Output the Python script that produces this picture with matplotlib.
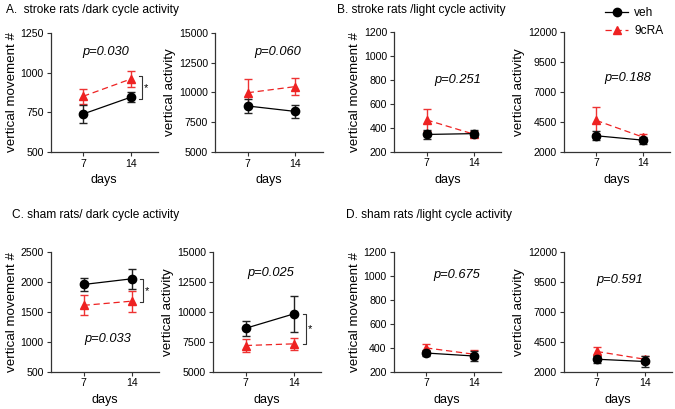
import matplotlib
matplotlib.use("Agg")
import matplotlib.pyplot as plt
from matplotlib.lines import Line2D

plt.rcParams['font.family'] = ['Liberation Sans', 'DejaVu Sans']

days = [7, 14]

# panel A: stroke rats, dark cycle
a_move_veh = [739, 845]
a_move_veh_err = [55, 32]
a_move_ra = [851, 960]
a_move_ra_err = [46, 53]
a_act_veh = [8860, 8400]
a_act_veh_err = [630, 560]
a_act_ra = [9980, 10500]
a_act_ra_err = [1130, 740]

# panel B: stroke rats, light cycle
b_move_veh = [343, 350]
b_move_veh_err = [38, 28]
b_move_ra = [465, 345]
b_move_ra_err = [95, 25]
b_act_veh = [3320, 2950]
b_act_veh_err = [380, 300]
b_act_ra = [4610, 3200]
b_act_ra_err = [1120, 300]

# panel C: sham rats, dark cycle
c_move_veh = [1960, 2055]
c_move_veh_err = [115, 165]
c_move_ra = [1610, 1680]
c_move_ra_err = [170, 175]
c_act_veh = [8630, 9830]
c_act_veh_err = [640, 1540]
c_act_ra = [7180, 7320]
c_act_ra_err = [560, 530]

# panel D: sham rats, light cycle
d_move_veh = [355, 330]
d_move_veh_err = [22, 42]
d_move_ra = [398, 345]
d_move_ra_err = [35, 35]
d_act_veh = [3030, 2840]
d_act_veh_err = [280, 500]
d_act_ra = [3680, 3030]
d_act_ra_err = [400, 300]

W, H = 675, 409
fig = plt.figure(figsize=(W / 100, H / 100), dpi=100)


def make_ax(x0, x1, ytop, ybot):
    return fig.add_axes([x0 / W, (H - ybot) / H, (x1 - x0) / W, (ybot - ytop) / H])


def draw(ax, veh, veh_err, ra, ra_err, yticks, ylabel, ptxt, pxy):
    ax.errorbar(days, veh, yerr=veh_err, color="black", ecolor="#222222", marker="o",
                ms=6, lw=0.9, elinewidth=1.0, capsize=3, capthick=1.0, zorder=3)
    ax.errorbar(days, ra, yerr=ra_err, color="#ee2222", ecolor="#ee3333", marker="^",
                ms=6, lw=0.9, ls=(0, (5, 3)), elinewidth=1.0, capsize=3, capthick=1.0, zorder=2)
    ax.set_xlim(2.2, 18)
    ax.set_ylim(yticks[0], yticks[-1])
    ax.set_yticks(yticks)
    ax.set_xticks(days)
    ax.set_xlabel("days", fontsize=9, labelpad=4)
    ax.set_ylabel(ylabel, fontsize=9.6, labelpad=2)
    ax.tick_params(labelsize=7.6, length=3, width=0.8, color="#333333", pad=2)
    for s in ["top", "right"]:
        ax.spines[s].set_visible(False)
    for s in ["left", "bottom"]:
        ax.spines[s].set_linewidth(0.9)
        ax.spines[s].set_color("#333333")
    ax.text(pxy[0], pxy[1], ptxt, transform=ax.transAxes, fontsize=9.3,
            style="italic", ha="center", va="center")


def bracket(ax, y_hi, y_lo, x=15.7):
    ax.plot([x - 0.5, x, x, x - 0.5], [y_hi, y_hi, y_lo, y_lo], color="#333333", lw=0.8,
            clip_on=False)
    ax.text(x + 0.55, (y_hi + y_lo) / 2, "*", fontsize=8, ha="center", va="center")


mv = "vertical movement #"
va = "vertical activity"

ax = make_ax(50.7, 157.7, 33.3, 151.7)
draw(ax, a_move_veh, a_move_veh_err, a_move_ra, a_move_ra_err, [500, 750, 1000, 1250], mv,
     "p=0.030", (0.51, 0.84))
bracket(ax, 977, 832)

ax = make_ax(215, 322.7, 33.3, 151.7)
draw(ax, a_act_veh, a_act_veh_err, a_act_ra, a_act_ra_err, [5000, 7500, 10000, 12500, 15000], va,
     "p=0.060", (0.58, 0.84))

ax = make_ax(394, 501, 32.3, 151.5)
draw(ax, b_move_veh, b_move_veh_err, b_move_ra, b_move_ra_err, [200, 400, 600, 800, 1000, 1200], mv,
     "p=0.251", (0.60, 0.60))

ax = make_ax(564, 670, 32.3, 151.5)
draw(ax, b_act_veh, b_act_veh_err, b_act_ra, b_act_ra_err, [2000, 4500, 7000, 9500, 12000], va,
     "p=0.188", (0.60, 0.62))

ax = make_ax(50.7, 159, 252.3, 371.5)
draw(ax, c_move_veh, c_move_veh_err, c_move_ra, c_move_ra_err, [500, 1000, 1500, 2000, 2500], mv,
     "p=0.033", (0.53, 0.27))
bracket(ax, c_move_veh[1], c_move_ra[1] - 20)

ax = make_ax(213, 321, 252.3, 371.5)
draw(ax, c_act_veh, c_act_veh_err, c_act_ra, c_act_ra_err, [5000, 7500, 10000, 12500, 15000], va,
     "p=0.025", (0.53, 0.83))
bracket(ax, c_act_veh[1], c_act_ra[1], x=15.8)

ax = make_ax(393.5, 501, 252.3, 371.5)
draw(ax, d_move_veh, d_move_veh_err, d_move_ra, d_move_ra_err, [200, 400, 600, 800, 1000, 1200], mv,
     "p=0.675", (0.59, 0.81))

ax = make_ax(564, 672, 252.3, 371.5)
draw(ax, d_act_veh, d_act_veh_err, d_act_ra, d_act_ra_err, [2000, 4500, 7000, 9500, 12000], va,
     "p=0.591", (0.52, 0.77))

fig.text(6 / W, 1 - 10 / H, "A.  stroke rats /dark cycle activity", fontsize=8.6, va="center")
fig.text(337 / W, 1 - 10 / H, "B. stroke rats /light cycle activity", fontsize=8.6, va="center")
fig.text(12 / W, 1 - 215 / H, "C. sham rats/ dark cycle activity", fontsize=8.6, va="center")
fig.text(346 / W, 1 - 215 / H, "D. sham rats /light cycle activity", fontsize=8.6, va="center")

handles = [
    Line2D([], [], color="black", marker="o", ms=6, lw=0.9),
    Line2D([], [], color="#ee2222", marker="^", ms=6, lw=0.9, ls=(0, (5, 3))),
]
fig.legend(handles, ["veh", "9cRA"], loc="upper left", bbox_to_anchor=(603 / W, 1 - 5 / H),
           frameon=False, fontsize=8.6, handlelength=1.9, labelspacing=0.45, borderpad=0.2,
           borderaxespad=0, handletextpad=0.5)

fig.savefig("out.png", dpi=100)
